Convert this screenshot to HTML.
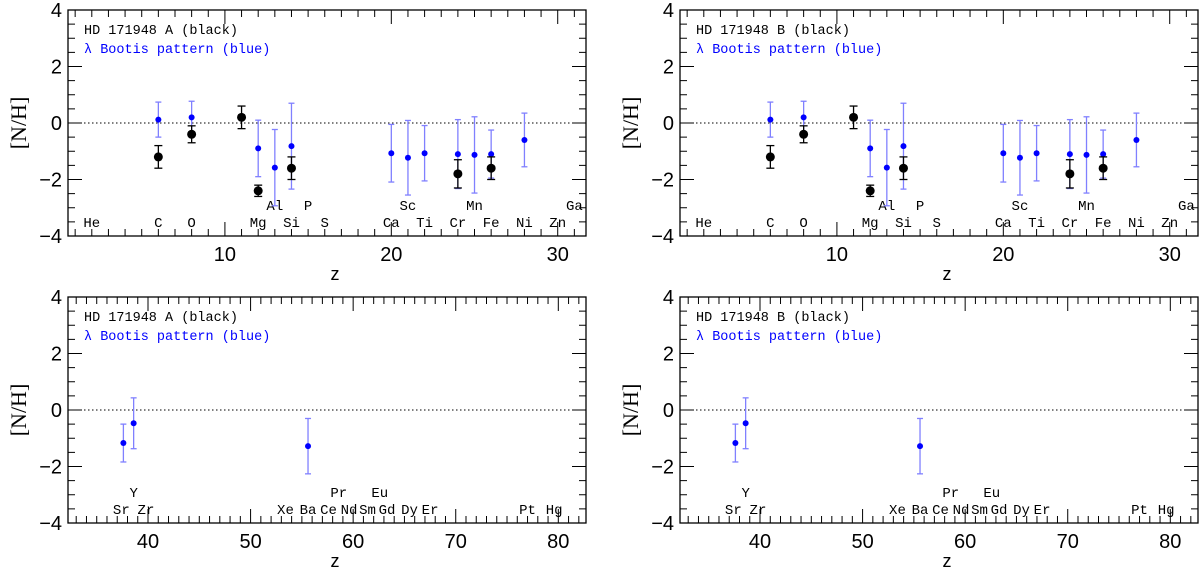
<!DOCTYPE html>
<html><head><meta charset="utf-8"><style>
body{margin:0;background:#fff;width:1200px;height:570px;overflow:hidden}
svg{display:block}
</style></head><body>
<svg id="chart" width="1200" height="570" xmlns="http://www.w3.org/2000/svg"></svg>
<script>
// Top panels: light elements
const topBlueZ=[6,8,12,13,14,20,21,22,24,25,26,28];
const topBlueVal=[0.12,0.2,-0.9,-1.58,-0.82,-1.07,-1.23,-1.07,-1.1,-1.13,-1.1,-0.6];
const topBlueErr=[0.62,0.57,1.0,1.35,1.52,1.02,1.32,0.98,1.22,1.35,0.85,0.95];
const topBlackZ=[6,8,11,12,14,24,26];
const topBlackVal=[-1.2,-0.4,0.2,-2.4,-1.6,-1.8,-1.6];
const topBlackErr=[0.4,0.3,0.4,0.2,0.4,0.5,0.4];
const topLabelsLow=["He","C","O","Mg","Si","S","Ca","Ti","Cr","Fe","Ni","Zn"];
const topLabelsLowZ=[2,6,8,12,14,16,20,22,24,26,28,30];
const topLabelsHigh=["Al","P","Sc","Mn","Ga"];
const topLabelsHighZ=[13,15,21,25,31];
const topXTicks=[10,20,30];
// Bottom panels: heavy elements
const botBlueZ=[37.6,38.6,55.6];
const botBlueVal=[-1.17,-0.47,-1.28];
const botBlueErr=[0.67,0.9,0.98];
const botLabelsLow=["Sr","Zr","Xe","Ba","Ce","Nd","Sm","Gd","Dy","Er","Pt","Hg"];
const botLabelsLowZ=[37.4,39.8,53.4,55.6,57.6,59.6,61.4,63.3,65.5,67.5,77,79.6];
const botLabelsHigh=["Y","Pr","Eu"];
const botLabelsHighZ=[38.6,58.6,62.6];
const botXTicks=[40,50,60,70,80];
const yTicks=[-4,-2,0,2,4];

const svg=document.getElementById('chart');
const NS='http://www.w3.org/2000/svg';
function mk(tag,attrs,parent,text){const e=document.createElementNS(NS,tag);for(const k in attrs)e.setAttribute(k,attrs[k]);if(text!==undefined)e.textContent=text;parent.appendChild(e);return e;}

function panel(ox,oy,xmin,xmax,star,blueZ,blueVal,blueErr,blackZ,blackVal,blackErr,lowL,lowZ,highL,highZ,xt,name){
  const L=68+ox,R=586+ox,T=10+oy,B=236+oy;
  const xs=v=>L+(v-xmin)/(xmax-xmin)*(R-L);
  const ys=v=>T+(4-v)/8*(B-T);
  const g=mk('g',{},svg);
  
  
  const fr=mk('rect',{x:L,y:T,width:R-L,height:B-T,fill:'none',stroke:'#000','stroke-width':1.3},g);
  
  for(let z=Math.ceil(xmin);z<=xmax;z++){
    const x=xs(z),len=(z%10===0)?14:7;
    mk('line',{x1:x,x2:x,y1:B,y2:B-len,stroke:'#000','stroke-width':1},g);
    mk('line',{x1:x,x2:x,y1:T,y2:T+len,stroke:'#000','stroke-width':1},g);
  }
  for(let v=-4;v<=4;v+=0.5){
    const y=ys(v),len=(v%2===0)?14:7;
    mk('line',{x1:L,x2:L+len,y1:y,y2:y,stroke:'#000','stroke-width':1},g);
    mk('line',{x1:R,x2:R-len,y1:y,y2:y,stroke:'#000','stroke-width':1},g);
  }
  xt.forEach(v=>{const t=mk('text',{x:xs(v),y:B+25,'text-anchor':'middle','font-size':20,'font-family':'Liberation Sans, sans-serif'},g,String(v));});
  yTicks.forEach(v=>{const t=mk('text',{x:L-6,y:ys(v)+7,'text-anchor':'end','font-size':20,'font-family':'Liberation Sans, sans-serif'},g,(v<0?'\u2212':'')+Math.abs(v));});
  const xl=mk('text',{x:(L+R)/2+8,y:B+44,'text-anchor':'middle','font-size':18,'font-family':'Liberation Sans, sans-serif'},g,'z');
  
  const yl=mk('text',{x:0,y:0,'text-anchor':'middle','font-size':22,'font-family':'Liberation Serif, serif',transform:`translate(${ox+26},${(T+B)/2}) rotate(-90)`},g,'[N/H]');
  
  const zl=mk('line',{x1:L,x2:R,y1:ys(0),y2:ys(0),stroke:'#000','stroke-width':1,'stroke-dasharray':'1.5,2.5'},g);
  
  const l1=mk('text',{x:L+16,y:T+24,'font-size':13.5,'font-family':'Liberation Mono, monospace',fill:'#000'},g,`HD 171948 ${star} (black)`);
  
  const l2=mk('text',{x:L+16,y:T+43,'font-size':13.5,'font-family':'Liberation Mono, monospace',fill:'#0000ff'},g,'\u03bb Bootis pattern (blue)');
  
  const lf='Liberation Mono, monospace';
  lowL.forEach((s,i)=>{const t=mk('text',{x:xs(lowZ[i]),y:ys(-3.5)+5,'text-anchor':'middle','font-size':14,'font-family':lf},g,s);});
  highL.forEach((s,i)=>{const t=mk('text',{x:xs(highZ[i]),y:ys(-2.9)+5,'text-anchor':'middle','font-size':14,'font-family':lf},g,s);});
  blueZ.forEach((z,i)=>{
    const x=xs(z);
    const e=mk('g',{},g);
    mk('line',{x1:x,x2:x,y1:ys(blueVal[i]+blueErr[i]),y2:ys(blueVal[i]-blueErr[i]),stroke:'#8080ff','stroke-width':1.3},e);
    [1,-1].forEach(s=>mk('line',{x1:x-3,x2:x+3,y1:ys(blueVal[i]+s*blueErr[i]),y2:ys(blueVal[i]+s*blueErr[i]),stroke:'#8080ff','stroke-width':1.3},e));
    mk('circle',{cx:x,cy:ys(blueVal[i]),r:3,fill:'#0000ff'},e);
  });
  blackZ.forEach((z,i)=>{
    const x=xs(z);
    const e=mk('g',{},g);
    mk('line',{x1:x,x2:x,y1:ys(blackVal[i]+blackErr[i]),y2:ys(blackVal[i]-blackErr[i]),stroke:'#000','stroke-width':1.3},e);
    [1,-1].forEach(s=>mk('line',{x1:x-4,x2:x+4,y1:ys(blackVal[i]+s*blackErr[i]),y2:ys(blackVal[i]+s*blackErr[i]),stroke:'#000','stroke-width':1.3},e));
    mk('circle',{cx:x,cy:ys(blackVal[i]),r:4.5,fill:'#000'},e);
  });
}
const TX0=0.57,TX1=31.7,BX0=32.2,BX1=82.7;
panel(0,0,TX0,TX1,'A',topBlueZ,topBlueVal,topBlueErr,topBlackZ,topBlackVal,topBlackErr,topLabelsLow,topLabelsLowZ,topLabelsHigh,topLabelsHighZ,topXTicks,'panel-top-left');
panel(612,0,TX0,TX1,'B',topBlueZ,topBlueVal,topBlueErr,topBlackZ,topBlackVal,topBlackErr,topLabelsLow,topLabelsLowZ,topLabelsHigh,topLabelsHighZ,topXTicks,'panel-top-right');
panel(0,287,BX0,BX1,'A',botBlueZ,botBlueVal,botBlueErr,[],[],[],botLabelsLow,botLabelsLowZ,botLabelsHigh,botLabelsHighZ,botXTicks,'panel-bottom-left');
panel(612,287,BX0,BX1,'B',botBlueZ,botBlueVal,botBlueErr,[],[],[],botLabelsLow,botLabelsLowZ,botLabelsHigh,botLabelsHighZ,botXTicks,'panel-bottom-right');
</script>
</body></html>
